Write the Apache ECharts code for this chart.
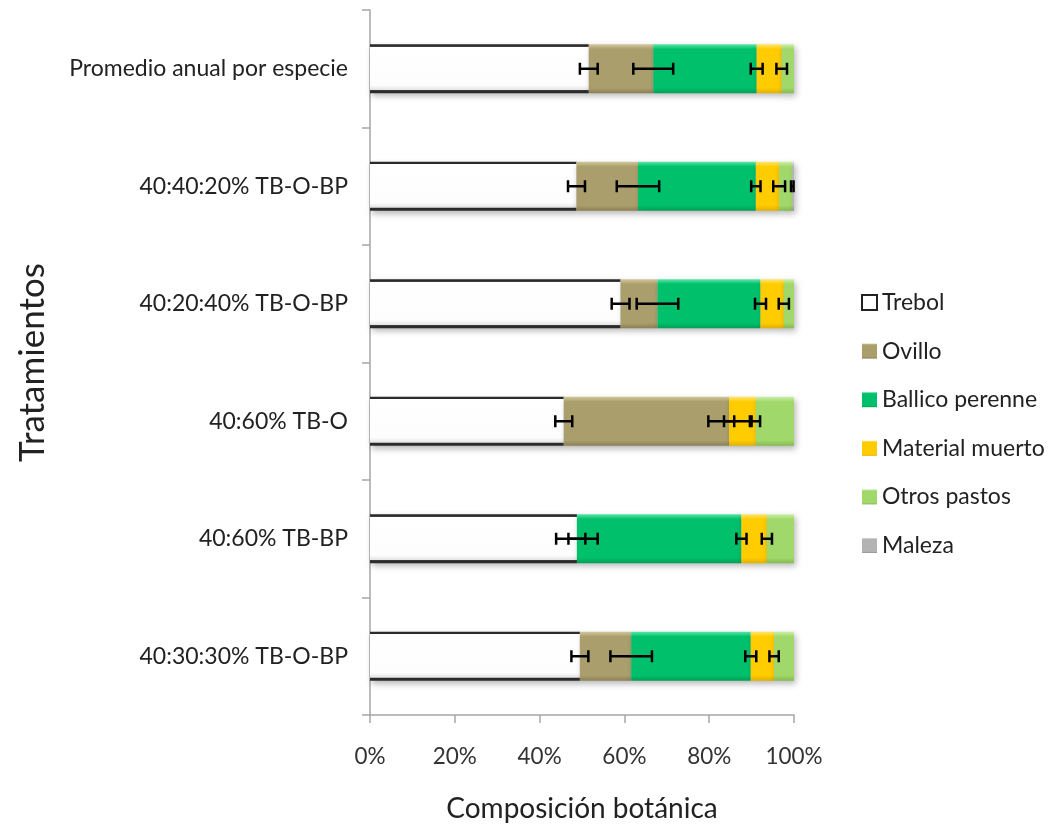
<!DOCTYPE html>
<html>
<head>
<meta charset="utf-8">
<title>Composición botánica por tratamiento</title>
<script src="https://cdn.jsdelivr.net/npm/echarts@6/dist/echarts.min.js"></script>
<style>
  html, body { margin: 0; padding: 0; background: #ffffff; }
  #chart { width: 1054px; height: 828px; }
</style>
</head>
<body>
<div id="chart"></div>
<script>
// Treatments, listed top to bottom
const categories = [
  'Promedio anual por especie',
  '40:40:20% TB-O-BP',
  '40:20:40% TB-O-BP',
  '40:60% TB-O',
  '40:60% TB-BP',
  '40:30:30% TB-O-BP'
];

const speciesNames = ['Trebol', 'Ovillo', 'Ballico perenne', 'Material muerto', 'Otros pastos', 'Maleza'];

// Share of each component (%) per treatment
const trebol         = [51.6, 48.7, 59.1, 45.7, 48.8, 49.5];
const ovillo         = [15.2, 14.5,  8.7, 39.0,  0.0, 12.1];
const ballico        = [24.4, 27.8, 24.3,  0.0, 38.8, 28.2];
const materialMuerto = [ 5.9,  5.5,  5.5,  6.3,  6.0,  5.5];
const otrosPastos    = [ 2.9,  3.1,  2.4,  9.0,  6.4,  4.7];
const maleza         = [ 0.0,  0.4,  0.0,  0.0,  0.0,  0.0];

// Standard error of each component (%)
const errTrebol         = [2.1, 2.0, 2.1, 2.0, 2.0, 2.0];
const errOvillo         = [4.7, 5.0, 4.9, 4.9, 4.9, 4.9];
const errBallico        = [1.4, 1.1, 1.3, 1.2, 1.2, 1.3];
const errMaterialMuerto = [1.25, 1.4, 1.2, 1.0, 1.2, 1.1];
const errOtrosPastos    = [0.0, 0.3, 0.0, 0.0, 0.0, 0.0];

const xTicks = [0, 20, 40, 60, 80, 100];

const FONT = 'Lato';

const seriesValues = [trebol, ovillo, ballico, materialMuerto, otrosPastos, maleza];
const seriesErrors = [errTrebol, errOvillo, errBallico, errMaterialMuerto, errOtrosPastos];

// Bevelled fill: soft light edge on top, flat body, darker edge at the bottom
function bevel(light, base, dark) {
  return {
    type: 'linear', x: 0, y: 0, x2: 0, y2: 1,
    colorStops: [
      { offset: 0.00, color: light },
      { offset: 0.10, color: base },
      { offset: 0.89, color: base },
      { offset: 1.00, color: dark }
    ]
  };
}

// White bar with dark rules along its top and bottom edges
const trebolFill = {
  type: 'linear', x: 0, y: 0, x2: 0, y2: 1,
  colorStops: [
    { offset: 0.00, color: '#2b2b2b' },
    { offset: 0.045, color: '#2b2b2b' },
    { offset: 0.055, color: '#ffffff' },
    { offset: 0.84, color: '#fdfdfd' },
    { offset: 0.93, color: '#e4e4e4' },
    { offset: 0.945, color: '#2b2b2b' },
    { offset: 1.00, color: '#2b2b2b' }
  ]
};

const fills = [
  trebolFill,
  bevel('#d2c89c', '#aa9f6c', '#8a8055'),
  bevel('#5ae6a8', '#00c06b', '#009f57'),
  bevel('#ffe770', '#ffcc00', '#e0b000'),
  bevel('#cdf0a8', '#a1d86b', '#84ba50'),
  bevel('#dcdcdc', '#b3b3b3', '#919191')
];

const barSeries = speciesNames.map((name, i) => ({
  name: name,
  type: 'bar',
  stack: 'total',
  barWidth: 49,
  data: seriesValues[i],
  itemStyle: {
    color: fills[i],
    shadowColor: 'rgba(0,0,0,0.28)',
    shadowBlur: 6,
    shadowOffsetX: 2,
    shadowOffsetY: 3
  },
  emphasis: { disabled: true },
  z: 2
}));

// Error bars sit at the cumulative end of each component
const errorData = [];
categories.forEach((cat, ci) => {
  let cum = 0;
  seriesErrors.forEach((errs, si) => {
    cum += seriesValues[si][ci];
    if (errs[ci] > 0) errorData.push([cum, ci, errs[ci]]);
  });
});

const errorSeries = {
  type: 'custom',
  name: 'error',
  data: errorData,
  encode: { x: 0, y: 1 },
  z: 10,
  silent: true,
  renderItem: function (params, api) {
    const c = api.value(0);
    const ci = api.value(1);
    const e = api.value(2);
    const a = api.coord([c - e, ci]);
    const b = api.coord([c + e, ci]);
    const cap = 6;
    const style = { stroke: '#000000', lineWidth: 2.5 };
    return {
      type: 'group',
      children: [
        { type: 'line', shape: { x1: a[0], y1: a[1], x2: b[0], y2: b[1] }, style: style },
        { type: 'line', shape: { x1: a[0], y1: a[1] - cap, x2: a[0], y2: a[1] + cap }, style: style },
        { type: 'line', shape: { x1: b[0], y1: b[1] - cap, x2: b[0], y2: b[1] + cap }, style: style }
      ]
    };
  }
};

const legendFills = [
  { color: '#ffffff', borderColor: '#222222', borderWidth: 2 },
  null, null, null, null, null
];

const chart = echarts.init(document.getElementById('chart'), null, { renderer: 'canvas' });

chart.setOption({
  animation: false,
  backgroundColor: '#ffffff',
  textStyle: { fontFamily: FONT },
  grid: { left: 370, right: 260, top: 10, bottom: 113, containLabel: false },
  legend: {
    orient: 'vertical',
    left: 856,
    top: 286,
    itemWidth: 15,
    itemHeight: 15,
    itemGap: 25.6,
    icon: 'rect',
    selectedMode: false,
    textStyle: { fontFamily: FONT, fontSize: 23, color: '#222222', lineHeight: 20, padding: [0, 0, 0, 0] },
    data: speciesNames.map((n, i) => legendFills[i] ? { name: n, itemStyle: legendFills[i] } : { name: n })
  },
  xAxis: {
    type: 'value',
    min: 0,
    max: 100,
    interval: 20,
    name: 'Composición botánica',
    nameLocation: 'middle',
    nameGap: 80,
    nameTextStyle: { fontFamily: FONT, fontSize: 28, color: '#222222' },
    axisLine: { show: true, lineStyle: { color: '#a6a6a6', width: 1.5 } },
    axisTick: { show: true, length: 8, lineStyle: { color: '#a6a6a6', width: 1.5 } },
    splitLine: { show: false },
    axisLabel: {
      margin: 30,
      fontFamily: FONT,
      fontSize: 22.5,
      color: '#333333',
      formatter: function (v) { return xTicks.indexOf(v) >= 0 ? v + '%' : ''; }
    }
  },
  yAxis: {
    type: 'category',
    inverse: true,
    data: categories,
    name: 'Tratamientos',
    nameLocation: 'middle',
    nameGap: 320,
    nameRotate: 90,
    nameTextStyle: { fontFamily: FONT, fontSize: 35, color: '#222222' },
    axisLine: { show: true, lineStyle: { color: '#a6a6a6', width: 1.5 } },
    axisTick: { show: true, length: 8, lineStyle: { color: '#a6a6a6', width: 1.5 } },
    axisLabel: { margin: 22, fontFamily: FONT, fontSize: 23, color: '#222222' },
    splitLine: { show: false }
  },
  series: barSeries.concat([errorSeries])
});
</script>
</body>
</html>
